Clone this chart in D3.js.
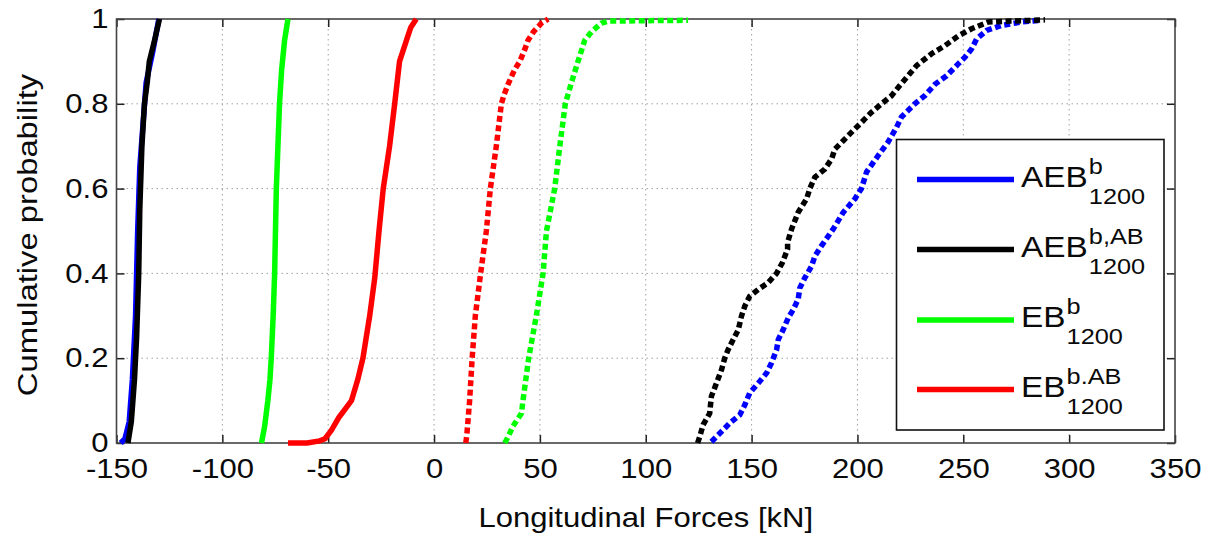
<!DOCTYPE html>
<html>
<head>
<meta charset="utf-8">
<script src="https://cdn.jsdelivr.net/npm/d3@7"></script>
<style>
  body { margin: 0; background: #fff; }
  text { font-family: "Liberation Sans", Arial, sans-serif; fill: #0a0a0a; }
</style>
</head>
<body>
<div id="chart"></div>
<script>
// ---------------- data: [force kN, cumulative probability]
// solid curves (compression side)
var aebSolid = [[-148, 0], [-146, 0.01], [-144, 0.05], [-142.5, 0.15], [-141, 0.3], [-140, 0.5],
    [-139, 0.65], [-137.5, 0.75], [-136, 0.85], [-133, 0.92], [-130, 1]];
var aebAbSolid = [[-144.6, 0], [-143, 0.05], [-141.5, 0.15], [-140.5, 0.25], [-139.5, 0.4], [-139, 0.55],
    [-138, 0.7], [-136.8, 0.8], [-135.5, 0.85], [-134.5, 0.9], [-132, 0.95], [-129.7, 1]];
var ebSolid = [[-81.5, 0], [-80, 0.04], [-78.5, 0.1], [-77.5, 0.15], [-76.9, 0.2], [-76, 0.3],
    [-75.3, 0.4], [-74.5, 0.6], [-73, 0.8], [-72, 0.88], [-70.6, 0.95], [-69, 1]];
var ebAbSolid = [[-69, 0], [-60, 0], [-54, 0.005], [-51.5, 0.01], [-48.5, 0.03], [-45, 0.06], [-42, 0.08],
    [-39, 0.1], [-36, 0.15], [-33.6, 0.2], [-30.4, 0.3], [-28, 0.39], [-26, 0.5], [-24, 0.6], [-21, 0.7],
    [-18.6, 0.8], [-16.3, 0.9], [-13, 0.95], [-11, 0.98], [-8.4, 1]];

// dashed curves (tension side)
var aebDashed = [[131, 0.003], [135.8, 0.027], [139.7, 0.047], [144.4, 0.066], [146.8, 0.09], [149.1, 0.118],
    [153.1, 0.141], [157.1, 0.165], [159.4, 0.189], [161.8, 0.22], [162.6, 0.244], [164.9, 0.267],
    [167.3, 0.295], [169.7, 0.315], [172, 0.339], [172.8, 0.366], [175.2, 0.39], [178.3, 0.417],
    [179.9, 0.441], [183, 0.465], [188.6, 0.505], [193.3, 0.544], [198.8, 0.576], [201.9, 0.6],
    [204.3, 0.639], [209.8, 0.678], [214.5, 0.71], [218.5, 0.745], [220.8, 0.769], [227.1, 0.8],
    [231.8, 0.819], [236.6, 0.846], [242.1, 0.866], [247.6, 0.894], [250.8, 0.91], [253.9, 0.929],
    [256.3, 0.953], [261, 0.973], [268.1, 0.985], [277.6, 0.993], [287, 0.997]];
var aebAbDashed = [[124.5, 0], [125.5, 0.015], [127.1, 0.043], [130.2, 0.07], [131, 0.11], [133.4, 0.141],
    [135.8, 0.173], [137.3, 0.2], [138.9, 0.22], [141.3, 0.244], [143.7, 0.267], [145.2, 0.299],
    [146.8, 0.323], [149.1, 0.346], [153.1, 0.362], [157.8, 0.378], [161.8, 0.4], [164.5, 0.425],
    [167, 0.457], [167, 0.473], [168.9, 0.505], [172, 0.544], [176, 0.576], [177.5, 0.6], [179.9, 0.627],
    [184.6, 0.646], [187.8, 0.67], [189.3, 0.693], [193.3, 0.713], [198, 0.737], [201.9, 0.756],
    [206.6, 0.78], [211.4, 0.8], [216.1, 0.819], [220, 0.843], [227.9, 0.89], [235, 0.918],
    [241.3, 0.937], [247.6, 0.96], [253.9, 0.977], [261.8, 0.993], [288.6, 0.998]];
var ebDashed = [[33.4, 0], [35, 0.015], [37.3, 0.04], [40, 0.06], [41.3, 0.07], [42, 0.1], [44.7, 0.2],
    [48.3, 0.3], [51.5, 0.4], [53.1, 0.5], [57, 0.6], [59.4, 0.7], [62, 0.8], [64.9, 0.85], [68, 0.9],
    [71.2, 0.95], [74.4, 0.97], [79, 0.99], [82.2, 0.995], [100, 0.996], [120, 0.997]];
var ebAbDashed = [[15, 0], [15.5, 0.02], [16.8, 0.1], [18, 0.2], [19.5, 0.3], [22, 0.4], [24.7, 0.5],
    [26.6, 0.6], [29.4, 0.7], [31.8, 0.8], [33, 0.82], [35.3, 0.85], [38, 0.88], [40.5, 0.9], [43, 0.93],
    [44.4, 0.95], [47, 0.97], [50.7, 0.99], [53.9, 1]];

var xTicks = [-150, -100, -50, 0, 50, 100, 150, 200, 250, 300, 350];
var yTicks = [0, 0.2, 0.4, 0.6, 0.8, 1];
var xTickLabels = ["-150", "-100", "-50", "0", "50", "100", "150", "200", "250", "300", "350"];
var yTickLabels = ["0", "0.2", "0.4", "0.6", "0.8", "1"];

var legendNames = ["AEB", "AEB", "EB", "EB"];
var legendSups = ["b", "b,AB", "b", "b.AB"];
var legendSubs = ["1200", "1200", "1200", "1200"];

// ---------------- styles
var seriesColors = ["#0000ff", "#000000", "#00ff00", "#ff0000"];
var textStretch = 1.15;   // the figure's lettering is wider than Arial

// define svg area dimensions
var svgWidth = 1212;
var svgHeight = 536;

var margin = {
    top: 19,
    right: 37,
    bottom: 93,
    left: 116.5
};
var chartWidth = svgWidth - margin.left - margin.right;
var chartHeight = svgHeight - margin.top - margin.bottom;

var svg = d3.select("#chart")
    .append("svg")
    .attr("width", svgWidth)
    .attr("height", svgHeight);

var chartGroup = svg.append("g")
    .attr("transform", `translate(${margin.left}, ${margin.top})`);

var xScale = d3.scaleLinear().domain([-150, 350]).range([0, chartWidth]);
var yScale = d3.scaleLinear().domain([0, 1]).range([chartHeight, 0]);

// grid (dotted)
chartGroup.append("g")
    .selectAll("line")
    .data(xTicks.slice(1, -1))
    .enter()
    .append("line")
    .attr("x1", d => xScale(d))
    .attr("x2", d => xScale(d))
    .attr("y1", 0)
    .attr("y2", chartHeight)
    .attr("stroke", "#a0a0a0")
    .attr("stroke-dasharray", "1.5,3.5");

chartGroup.append("g")
    .selectAll("line")
    .data(yTicks.slice(1, -1))
    .enter()
    .append("line")
    .attr("x1", 0)
    .attr("x2", chartWidth)
    .attr("y1", d => yScale(d))
    .attr("y2", d => yScale(d))
    .attr("stroke", "#a0a0a0")
    .attr("stroke-dasharray", "1.5,3.5");

// axes with inward ticks on all four sides
var bottomAxis = d3.axisBottom(xScale).tickValues(xTicks).tickSizeInner(-8).tickSizeOuter(0).tickPadding(16)
    .tickFormat((d, i) => xTickLabels[i]);
var topAxis = d3.axisTop(xScale).tickValues(xTicks).tickSizeInner(-8).tickSizeOuter(0).tickFormat("");
var leftAxis = d3.axisLeft(yScale).tickValues(yTicks).tickSizeInner(-8).tickSizeOuter(0).tickPadding(7)
    .tickFormat((d, i) => yTickLabels[i]);
var rightAxis = d3.axisRight(yScale).tickValues(yTicks).tickSizeInner(-8).tickSizeOuter(0).tickFormat("");

var xAxis = chartGroup.append("g")
    .attr("transform", `translate(0, ${chartHeight})`)
    .call(bottomAxis);
chartGroup.append("g").call(topAxis);
var yAxis = chartGroup.append("g").call(leftAxis);
chartGroup.append("g").attr("transform", `translate(${chartWidth}, 0)`).call(rightAxis);

chartGroup.selectAll(".domain").remove();
chartGroup.selectAll(".tick line").attr("stroke", "#222").attr("stroke-width", 1.5);

xAxis.selectAll("text")
    .attr("font-size", 27)
    .attr("fill", "#0a0a0a")
    .attr("transform", `scale(${textStretch}, 1)`);
yAxis.selectAll("text")
    .attr("font-size", 27)
    .attr("fill", "#0a0a0a")
    .attr("transform", `scale(${textStretch}, 1)`);

// frame
chartGroup.append("rect")
    .attr("width", chartWidth)
    .attr("height", chartHeight)
    .attr("fill", "none")
    .attr("stroke", "#444")
    .attr("stroke-width", 1.6);

// curves
var lineGen = d3.line()
    .x(d => xScale(d[0]))
    .y(d => yScale(d[1]));

var solidSeries = [aebSolid, aebAbSolid, ebSolid, ebAbSolid];
var dashedSeries = [aebDashed, aebAbDashed, ebDashed, ebAbDashed];

chartGroup.selectAll(".solid")
    .data(solidSeries)
    .enter()
    .append("path")
    .attr("class", "solid")
    .attr("d", d => lineGen(d))
    .attr("fill", "none")
    .attr("stroke", (d, i) => seriesColors[i])
    .attr("stroke-width", 5.5);

chartGroup.selectAll(".dashed")
    .data(dashedSeries)
    .enter()
    .append("path")
    .attr("class", "dashed")
    .attr("d", d => lineGen(d))
    .attr("fill", "none")
    .attr("stroke", (d, i) => seriesColors[i])
    .attr("stroke-width", 5.5)
    .attr("stroke-dasharray", "6,3.5");

// axis labels
svg.append("text")
    .attr("transform", `translate(${margin.left + chartWidth / 2}, 527) scale(${textStretch}, 1)`)
    .attr("text-anchor", "middle")
    .attr("font-size", 27)
    .text("Longitudinal Forces [kN]");

svg.append("text")
    .attr("transform", `translate(37, 235) rotate(-90) scale(${textStretch}, 1)`)
    .attr("text-anchor", "middle")
    .attr("font-size", 28.5)
    .text("Cumulative probability");

// legend
var legendBox = { x: 896.5, y: 139.5, w: 267.5, h: 290.5 };
var legendRows = [179.5, 249.5, 320, 389.5];

var legend = svg.append("g");
legend.append("rect")
    .attr("x", legendBox.x)
    .attr("y", legendBox.y)
    .attr("width", legendBox.w)
    .attr("height", legendBox.h)
    .attr("fill", "#fff")
    .attr("stroke", "#111")
    .attr("stroke-width", 1.6);

legendNames.forEach(function(name, i) {
    var rowY = legendRows[i];
    legend.append("line")
        .attr("x1", 917)
        .attr("x2", 1014)
        .attr("y1", rowY)
        .attr("y2", rowY)
        .attr("stroke", seriesColors[i])
        .attr("stroke-width", 5.5);

    var label = legend.append("g")
        .attr("transform", `translate(1021, ${rowY + 7}) scale(${textStretch}, 1)`);
    var main = label.append("text")
        .attr("font-size", 29)
        .text(name);
    var w = main.node().getComputedTextLength() + 1;
    label.append("text")
        .attr("x", w)
        .attr("y", -13)
        .attr("font-size", 22)
        .text(legendSups[i]);
    label.append("text")
        .attr("x", w)
        .attr("y", 17)
        .attr("font-size", 22)
        .text(legendSubs[i]);
});
</script>
</body>
</html>
